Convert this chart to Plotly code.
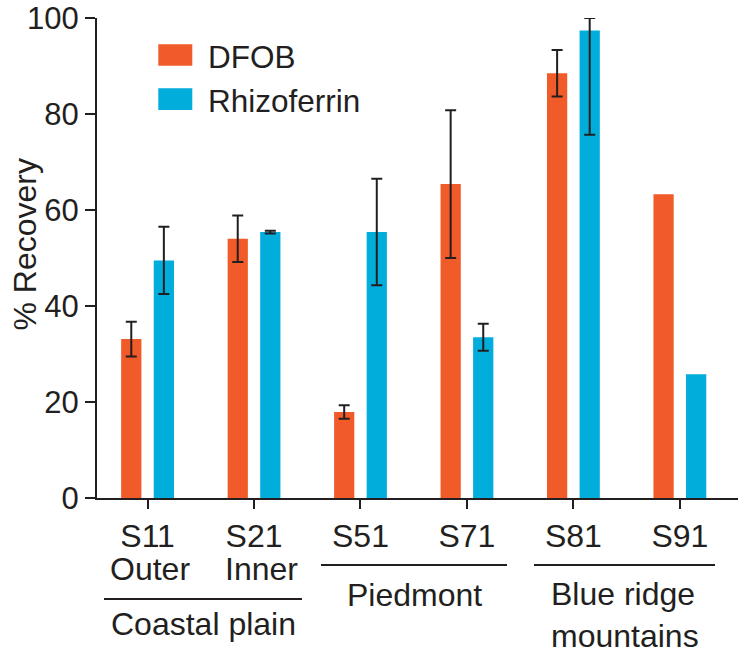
import plotly.graph_objects as go

# ---- data ----
sites = ["S11", "S21", "S51", "S71", "S81", "S91"]
dfob = [33.1, 54.0, 17.9, 65.4, 88.5, 63.3]
# S91 has no error bar (array stops at S81)
dfob_err = [3.6, 4.85, 1.4, 15.4, 4.85]
rhizo = [49.5, 55.4, 55.4, 33.5, 97.4, 25.8]
rhizo_err_plus = [7.0, 0.3, 11.1, 2.8, 2.6]
rhizo_err_minus = [7.0, 0.3, 11.1, 2.8, 21.7]
y_ticks = [0, 20, 40, 60, 80, 100]

ORANGE = "#F15A29"
BLUE = "#00ADDB"
INK = "#231F20"
FONT = "Liberation Sans, Arial, sans-serif"

W, H = 739, 661
L, R, T, B = 97, 1, 18, 163
PW = W - L - R
PH = H - T - B


def px(x):
    return (x - L) / PW


def py(y):
    return (H - B - y) / PH


fig = go.Figure()
fig.add_trace(go.Bar(
    x=sites, y=dfob, name="DFOB", marker=dict(color=ORANGE, line=dict(width=0)),
    error_y=dict(type="data", array=dfob_err, visible=True, color=INK,
                 thickness=2, width=5.5),
    cliponaxis=False, showlegend=False,
))
fig.add_trace(go.Bar(
    x=sites, y=rhizo, name="Rhizoferrin", marker=dict(color=BLUE, line=dict(width=0)),
    error_y=dict(type="data", symmetric=False, array=rhizo_err_plus,
                 arrayminus=rhizo_err_minus, visible=True, color=INK,
                 thickness=2, width=5.5),
    cliponaxis=False, showlegend=False,
))

fig.update_layout(
    template="none",
    width=W, height=H,
    margin=dict(l=L, r=R, t=T, b=B, pad=0, autoexpand=False),
    paper_bgcolor="white", plot_bgcolor="white",
    barmode="group", bargap=0.388, bargroupgap=0.379,
    font=dict(family=FONT, color=INK),
    xaxis=dict(
        range=[-0.475, 5.546], type="category", automargin=False,
        showline=True, linecolor=INK, linewidth=2,
        ticks="outside", ticklen=9, tickwidth=2, tickcolor=INK,
        tickfont=dict(size=32, family=FONT, color=INK),
        showgrid=False, zeroline=False,
    ),
    yaxis=dict(
        range=[0, 100], tickvals=y_ticks, automargin=False,
        showline=True, linecolor=INK, linewidth=2,
        ticks="outside", ticklen=10, tickwidth=2, tickcolor=INK,
        tickfont=dict(size=31, family=FONT, color=INK),
        showgrid=False, zeroline=False,
    ),
)

shapes = []
annotations = []

# legend swatches
for (y0, y1, col) in [(44.3, 65.7, ORANGE), (88.3, 110.0, BLUE)]:
    shapes.append(dict(type="rect", xref="paper", yref="paper",
                       x0=px(158.3), x1=px(192.3), y0=py(y1), y1=py(y0),
                       fillcolor=col, line=dict(width=0)))
for (txt, ymid) in [("DFOB", 56.5), ("Rhizoferrin", 100.5)]:
    annotations.append(dict(text=txt, xref="paper", yref="paper", x=px(206),
                            y=py(ymid), xanchor="left", yanchor="middle",
                            showarrow=False, font=dict(size=31.5, family=FONT, color=INK)))

# group bracket lines
for (x0, x1, yy) in [(104, 302, 599), (321, 507, 565), (534, 715, 565)]:
    shapes.append(dict(type="line", xref="paper", yref="paper",
                       x0=px(x0), x1=px(x1), y0=py(yy), y1=py(yy),
                       line=dict(color=INK, width=2)))

# sublabels and group labels
for (txt, xc, ymid) in [("Outer", 150, 569), ("Inner", 261, 569),
                        ("Coastal plain", 203, 624), ("Piedmont", 414, 594.5),
                        ("Blue ridge", 623, 594), ("mountains", 625, 636)]:
    annotations.append(dict(text=txt, xref="paper", yref="paper", x=px(xc),
                            y=py(ymid), xanchor="center", yanchor="middle",
                            showarrow=False, font=dict(size=32, family=FONT, color=INK)))

# y-axis title
annotations.append(dict(text="% Recovery", xref="paper", yref="paper", x=px(24),
                        y=py(244.5), xanchor="center", yanchor="middle", textangle=-90,
                        showarrow=False, font=dict(size=32, family=FONT, color=INK)))

fig.update_layout(shapes=shapes, annotations=annotations)
fig.write_html("out.html",
               config={"displayModeBar": False},
               post_script="document.body.style.margin='0';document.body.style.padding='0';")
